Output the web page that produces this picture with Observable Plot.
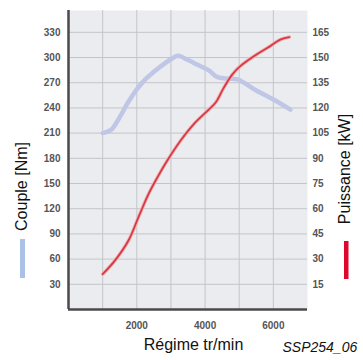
<!DOCTYPE html>
<html>
<head>
<meta charset="utf-8">
<script src="https://cdn.jsdelivr.net/npm/d3@7"></script>
<script src="https://cdn.jsdelivr.net/npm/@observablehq/plot@0.6"></script>
<style>
  html, body { margin: 0; padding: 0; background: #fff; }
  #chart { width: 363px; height: 360px; overflow: hidden; }
  svg { font-family: "Liberation Sans", Arial, sans-serif; }
</style>
</head>
<body>
<div id="chart"></div>
<script>
// Torque curve (Couple, Nm)
const torqueRpm = [1000, 1250, 1500, 1750, 2000, 2250, 2500, 2750, 3000, 3200, 3500, 3800, 4100, 4350, 4600, 4950, 5450, 6000, 6500];
const torqueNm  = [210, 214, 229, 247, 262, 274, 283, 291, 298, 302, 297, 291, 285, 277, 275, 274, 262, 250, 238];

// Power curve (Puissance, kW)
const powerRpm = [1000, 1370, 1760, 2050, 2350, 2600, 2890, 3280, 3670, 4070, 4310, 4550, 4800, 5040, 5440, 5830, 6220, 6470];
const powerKw  = [21, 29.4, 41.2, 55, 69, 78.5, 88.6, 100.5, 110.4, 118.3, 123.2, 132.1, 140, 145, 150.9, 155.8, 160.8, 162.2];

// Tick labels
const leftTicks  = [30, 60, 90, 120, 150, 180, 210, 240, 270, 300, 330];
const rightTicks = [15, 30, 45, 60, 75, 90, 105, 120, 135, 150, 165];
const xTicks     = [2000, 4000, 6000];
const xGrid      = [1000, 2000, 3000, 4000, 5000, 6000];

// Texts
const leftTitle  = "Couple [Nm]";
const rightTitle = "Puissance [kW]";
const xTitle     = "Régime tr/min";
const caption    = "SSP254_06";

const torque = torqueRpm.map((r, i) => ({rpm: r, v: torqueNm[i]}));
const power  = powerRpm.map((r, i) => ({rpm: r, v: powerKw[i]}));

const tickFont = {fontSize: 10, fontWeight: "bold", fill: "#555"};

const chart = Plot.plot({
  width: 363,
  height: 360,
  marginLeft: 68,
  marginRight: 56,
  marginTop: 10,
  marginBottom: 51,
  style: {fontFamily: "Liberation Sans, Arial, sans-serif", background: "#fff"},
  x: {domain: [0, 7000]},
  y: {domain: [0, 356]},
  marks: [
    Plot.frame({fill: "#ebecef", stroke: null}),
    Plot.gridY(leftTicks, {stroke: "#c4c5c9", strokeOpacity: 1, strokeWidth: 1}),
    Plot.gridX(xGrid, {stroke: "#c4c5c9", strokeOpacity: 1, strokeWidth: 1}),
    Plot.axisY(leftTicks, {anchor: "left", tickSize: 0, tickPadding: 8, label: null, ...tickFont}),
    Plot.axisY(rightTicks.map(d => d * 2), {anchor: "right", tickSize: 0, tickPadding: 5, label: null,
      tickFormat: d => String(d / 2), ...tickFont}),
    Plot.axisX(xTicks, {anchor: "bottom", tickSize: 0, tickPadding: 12, label: null, tickFormat: d => String(d), ...tickFont}),
    Plot.line(torque, {x: "rpm", y: "v", stroke: "#bfc6e6", strokeWidth: 4.5, curve: "catmull-rom"}),
    Plot.line(power, {x: "rpm", y: d => d.v * 2, stroke: "#f2b0b0", strokeWidth: 3.5, curve: "catmull-rom"}),
    Plot.line(power, {x: "rpm", y: d => d.v * 2, stroke: "#d63a46", strokeWidth: 1.8, curve: "catmull-rom"}),
    Plot.ruleX([0], {stroke: "#4a4a4a", strokeWidth: 2.5}),
    Plot.ruleY([0], {stroke: "#4a4a4a", strokeWidth: 2.5}),
    Plot.text([leftTitle], {frameAnchor: "left", textAnchor: "middle", dx: -47, dy: 26.5, rotate: -90, fontSize: 16, fill: "#111"}),
    Plot.text([rightTitle], {frameAnchor: "right", textAnchor: "middle", dx: 37, dy: 9, rotate: -90, fontSize: 16, fill: "#111"}),
    Plot.text([xTitle], {frameAnchor: "bottom", dx: 5.5, dy: 40, fontSize: 16, fill: "#111"}),
    Plot.text([caption], {frameAnchor: "bottom-right", textAnchor: "start", dx: -25, dy: 42, fontSize: 14, fontStyle: "italic", fill: "#111"})
  ]
});

// legend swatches next to the axis titles
const svg = d3.select(chart);
svg.append("rect").attr("x", 20).attr("y", 239).attr("width", 5).attr("height", 39).attr("fill", "#a9c2e6");
svg.append("rect").attr("x", 344).attr("y", 241).attr("width", 4.5).attr("height", 38).attr("fill", "#e0062c");

document.getElementById("chart").appendChild(chart);
</script>
</body>
</html>
